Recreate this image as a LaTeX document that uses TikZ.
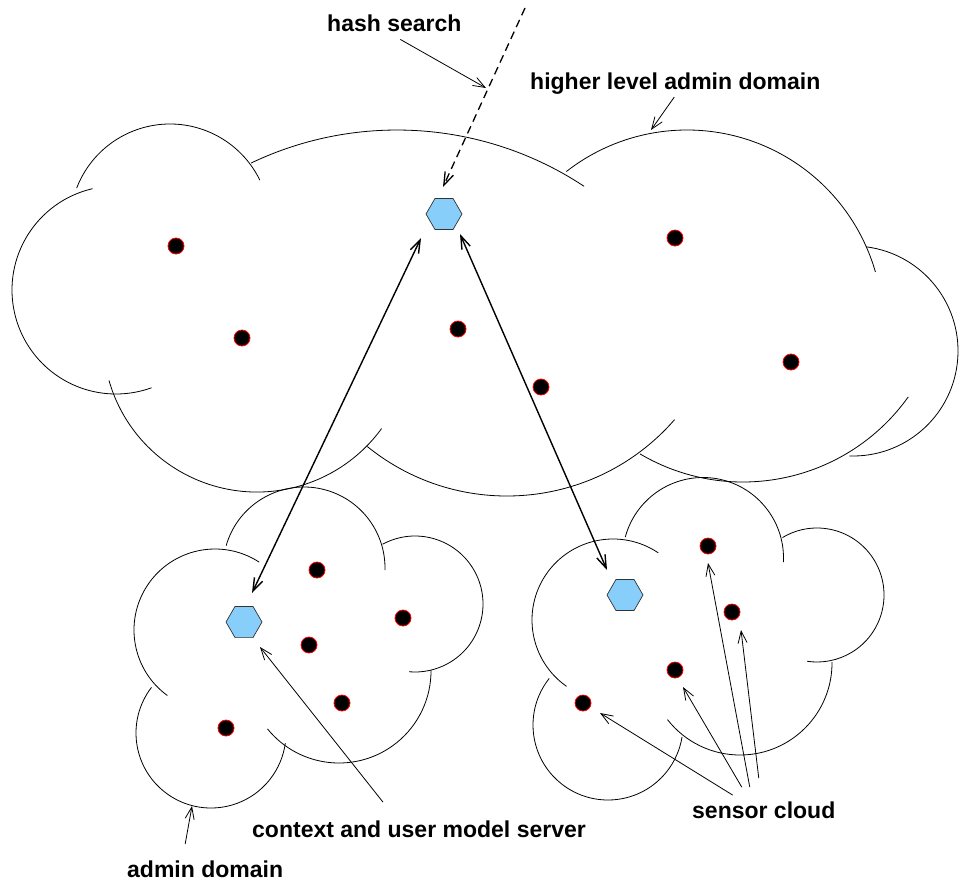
\documentclass[tikz,border=0pt]{standalone}
\usepackage{fontspec}
\setmainfont{Liberation Sans}
\usetikzlibrary{shapes.geometric}
\usetikzlibrary{arrows.meta}

\definecolor{hexblue}{RGB}{135,206,250}

% one bump of a cloud: centre x, centre y, radius, start angle, end angle
\newcommand{\cloudarc}[5]{\draw[cloudline] (#1,#2) ++(#4:#3) arc[start angle=#4, end angle=#5, radius=#3];}

\begin{document}
\begin{tikzpicture}[x=1pt, y=-1pt,
    cloudline/.style={line width=0.8pt},
    server/.style={regular polygon, regular polygon sides=6, minimum size=36pt, inner sep=0pt, draw=black!80, line width=0.7pt, fill=hexblue},
    sensor/.style={circle, minimum size=16pt, inner sep=0pt, draw=red, line width=0.8pt, fill=black},
    lbl/.style={font=\bfseries\fontsize{23}{27}\selectfont, inner sep=0pt, anchor=base west},
    pointer/.style={line width=0.8pt, -{Straight Barb[length=12pt, width=9pt]}},
    link/.style={line width=1.4pt, {Straight Barb[length=13pt, width=9pt]}-{Straight Barb[length=13pt, width=9pt]}}]
    \useasboundingbox (0,0) rectangle (960,881);

    % Higher level admin domain
    \cloudarc{170}{224}{100}{-159}{-26}
    \cloudarc{116}{290}{104}{257}{70}
    \cloudarc{257}{338}{154}{164}{36}
    \cloudarc{507}{274}{222}{129}{41}
    \cloudarc{743}{279}{203}{120.5}{35.5}
    \cloudarc{687}{326}{196}{-128}{-16}
    \cloudarc{397}{469}{339}{-115.5}{-56.5}
    \cloudarc{853}{351}{105}{-83}{92}

    % Admin domain (lower left)
    \cloudarc{304}{568}{81}{-164}{1.5}
    \cloudarc{215}{630}{81}{-57}{-234}
    \cloudarc{211}{733}{75}{217.5}{7.8}
    \cloudarc{339}{671}{92}{141}{-0.6}
    \cloudarc{415}{604}{68}{-118.5}{95}

    % Sensor cloud (lower right)
    \cloudarc{703}{558}{80.5}{-165}{3}
    \cloudarc{817}{595}{67}{-121}{98.5}
    \cloudarc{740}{663}{92}{-0.6}{142}
    \cloudarc{608}{725}{75}{218.4}{9.1}
    \cloudarc{613}{620}{81}{-56}{-235}

    % Servers
    \node[server] (tophex) at (444,214) {};
    \node[server] (llhex) at (244,622) {};
    \node[server] (lrhex) at (625,595) {};

    % Sensors
    \foreach \name/\x/\y in {b1/176/246, b2/242/338, b3/458/329, b4/541/387, b5/675/238, b6/791/362,
                             l1/317/570, l2/403/618, l3/309/645, l4/342/703, l5/226/728,
                             r1/708/546, r2/732/612, r3/675/670, r4/583/703} {
        \node[sensor] (\name) at (\x,\y) {};
    }

    % Links between servers
    \draw[link] ([shift={(-23,24)}]tophex.center) -- ([shift={(8,-29)}]llhex.center);
    \draw[link] ([shift={(16,20)}]tophex.center) -- ([shift={(-18,-25)}]lrhex.center);
    \coordinate (query) at (525,8);
    \draw[line width=1.3pt, dash pattern=on 8pt off 5pt, -{Straight Barb[length=13pt, width=9pt]}]
        (query) -- ([shift={(-1,-27)}]tophex.center);

    % Labels
    \node[lbl] (hashlbl) at (327,31) {hash search};
    \node[lbl] (higherlbl) at (530,89) {higher level admin domain};
    \node[lbl] (ctxlbl) at (252,837) {context and user model server};
    \node[lbl] (sensorlbl) at (692,818) {sensor cloud};
    \node[lbl] (adminlbl) at (127,877) {admin domain};

    \coordinate (hashpt) at (486,88);
    \coordinate (higherpt) at (651,130);
    \coordinate (adminpt) at (192,806);

    \draw[pointer] ([shift={(6,8)}]hashlbl.south) -- (hashpt);
    \draw[pointer] ([shift={(-1,3)}]higherlbl.south) -- (higherpt);
    \draw[pointer] ([shift={(-36,-18)}]ctxlbl.north) -- ([shift={(16,25)}]llhex.center);
    \draw[pointer] ([shift={(-20,-16)}]adminlbl.north) -- (adminpt);
    \foreach \dx/\dy/\dot/\tx/\ty in {-31/-6/r4/17/10, -22/-14/r3/8/17, -14/-14/r1/0/17, -5/-23/r2/9/18} {
        \draw[pointer] ([shift={(\dx,\dy)}]sensorlbl.north) -- ([shift={(\tx,\ty)}]\dot.center);
    }
\end{tikzpicture}
\end{document}
